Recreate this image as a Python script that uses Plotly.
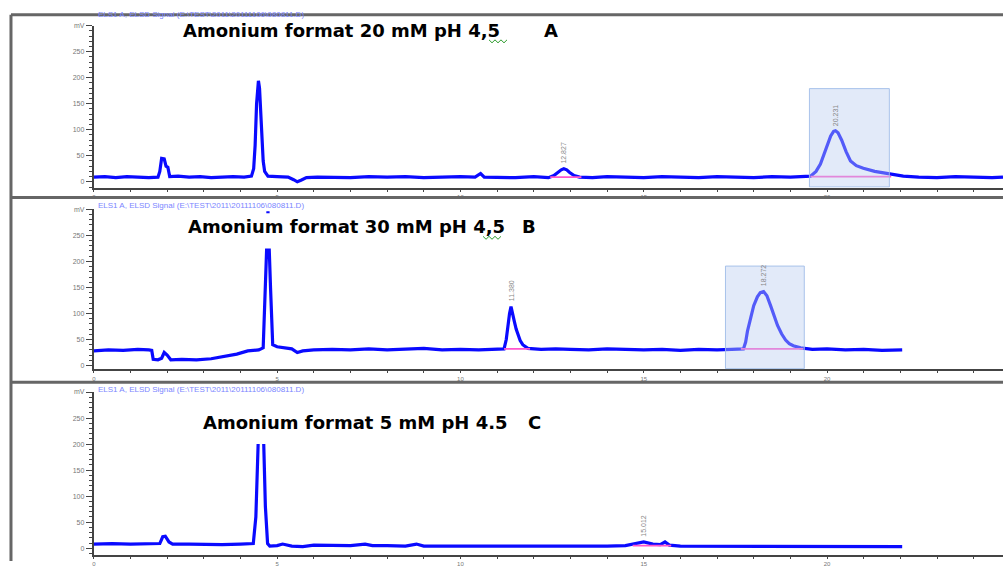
import plotly.graph_objects as go

W, H = 1003, 567

# ---------------- data ----------------
# Panel A : Amonium format 20 mM pH 4,5
tA = [0.00, 0.30, 0.60, 0.90, 1.20, 1.50, 1.75, 1.80, 1.85, 1.92, 1.97, 2.02, 2.07, 2.30, 2.60, 2.90,
      3.20, 3.50, 3.80, 4.10, 4.30, 4.36, 4.40, 4.44, 4.47, 4.49, 4.52, 4.55, 4.58, 4.62, 4.66, 4.75,
      5.00, 5.30, 5.45, 5.55, 5.65, 5.80, 6.10, 6.50, 7.00, 7.50, 8.00, 8.50, 9.00, 9.50, 10.00, 10.40,
      10.55, 10.65, 11.00, 11.50, 12.00, 12.40, 12.55, 12.65, 12.75, 12.82, 12.90, 12.98, 13.10, 13.25,
      13.60, 14.00, 14.50, 15.00, 15.50, 16.00, 16.50, 17.00, 17.50, 18.00, 18.50, 19.00, 19.55, 19.70,
      19.82, 19.92, 20.01, 20.10, 20.18, 20.23, 20.30, 20.40, 20.52, 20.64, 20.80, 20.99, 21.30, 21.54,
      21.73, 21.90, 22.08, 22.50, 23.00, 23.50, 24.00, 24.50, 24.80]
mvA = [9, 10, 8, 10, 9, 8, 9, 20, 45, 44, 30, 28, 10, 11, 9, 10,
       8, 9, 10, 9, 11, 25, 70, 150, 185, 194, 180, 130, 80, 40, 20, 11,
       10, 9, 4, 0, 3, 8, 9, 9, 8, 10, 9, 10, 8, 9, 10, 9,
       16, 9, 9, 8, 10, 8, 12, 18, 23, 25, 23, 18, 12, 9,
       8, 10, 9, 8, 10, 9, 8, 10, 9, 8, 10, 9, 11, 20,
       34, 52, 72, 88, 97, 98, 94, 80, 58, 40, 31, 26, 20, 17,
       15, 12, 11, 9, 8, 10, 9, 8, 9]

# Panel B : Amonium format 30 mM pH 4,5
tB = [0.00, 0.40, 0.80, 1.20, 1.50, 1.58, 1.62, 1.75, 1.85, 1.92, 2.00, 2.10, 2.40, 2.80, 3.20, 3.50,
      3.90, 4.20, 4.50, 4.62, 4.68, 4.75, 4.82, 4.88, 5.00, 5.40, 5.55, 5.70, 6.00, 6.50, 7.00, 7.50,
      8.00, 8.50, 9.00, 9.50, 10.00, 10.50, 11.00, 11.19, 11.25, 11.30, 11.34, 11.38, 11.43, 11.47,
      11.52, 11.57, 11.63, 11.70, 11.84, 12.20, 12.60, 13.00, 13.50, 14.00, 14.50, 15.00, 15.50, 16.00,
      16.50, 17.00, 17.40, 17.72, 17.78, 17.83, 17.92, 18.00, 18.10, 18.18, 18.27, 18.36, 18.46, 18.55,
      18.65, 18.76, 18.87, 18.97, 19.08, 19.28, 19.60, 20.00, 20.50, 21.00, 21.50, 22.05]
mvB = [28, 30, 29, 31, 30, 29, 12, 11, 14, 25, 20, 11, 12, 11, 13, 17,
       22, 28, 30, 34, 150, 296, 150, 40, 36, 32, 25, 28, 30, 31, 30, 32,
       30, 31, 33, 30, 31, 30, 32, 32, 50, 80, 100, 113, 100, 85,
       70, 58, 48, 40, 33, 31, 32, 31, 30, 32, 31, 30, 31, 29,
       31, 30, 31, 32, 45, 66, 92, 115, 132, 140, 142, 134, 115, 96,
       77, 61, 49, 42, 38, 34, 31, 32, 30, 31, 29, 30]

# Panel C : Amonium format 5 mM pH 4.5
tC = [0.00, 0.50, 1.00, 1.50, 1.80, 1.88, 1.95, 2.05, 2.15, 2.60, 3.00, 3.50, 4.00, 4.35, 4.42, 4.50,
      4.62, 4.68, 4.74, 4.80, 5.00, 5.15, 5.40, 5.70, 6.00, 6.50, 7.00, 7.40, 7.60, 8.00, 8.50, 8.80,
      9.00, 9.50, 10.00, 10.50, 11.00, 11.50, 12.00, 12.50, 13.00, 13.50, 14.00, 14.50, 14.75, 15.00,
      15.25, 15.45, 15.58, 15.70, 16.00, 16.50, 17.00, 17.50, 18.00, 18.50, 19.00, 19.50, 20.00, 20.50,
      21.00, 21.50, 22.05]
mvC = [8, 9, 8, 8, 9, 22, 23, 12, 8, 8, 7, 7, 8, 9, 60, 240,
       240, 80, 9, 4, 5, 8, 4, 3, 6, 5, 5, 8, 5, 5, 4, 8,
       4, 4, 4, 4, 4, 4, 4, 4, 3, 4, 4, 5, 8, 12,
       8, 7, 12, 6, 4, 4, 4, 4, 4, 4, 4, 4, 4, 4,
       4, 4, 3]

# integration baselines (panel, start, end, level)
baselines = [("A", 12.45, 13.30, 9), ("A", 19.55, 21.75, 10),
             ("B", 11.19, 11.90, 32), ("B", 17.65, 19.35, 32),
             ("C", 14.70, 15.75, 5)]
# peak labels (panel, retention time, apex mV, text)
peak_labels = [("A", 12.82, 25, "12.827"), ("A", 20.23, 98, "20.231"),
               ("B", 11.38, 113, "11.380"), ("B", 18.27, 142, "18.272"),
               ("C", 15.00, 12, "15.012")]
# highlighted regions (panel, t0, t1, top mV)
boxes = [("A", 19.52, 21.70, 179), ("B", 17.23, 19.38, 191)]

titles = [("A", "Amonium format 20 mM pH 4,5", "A"),
          ("B", "Amonium format 30 mM pH 4,5", "B"),
          ("C", "Amonium format 5 mM pH 4.5", "C")]

y_tickvals = [0, 50, 100, 150, 200, 250, 300]
y_ticktext = ["0", "50", "100", "150", "200", "250", "mV"]

# ---------------- layout helpers ----------------
def px(x):
    return x / W

def py(y):
    return 1 - y / H

axis_id = {"A": ("x", "y", ""), "B": ("x2", "y2", "2"), "C": ("x3", "y3", "3")}
# panel geometry in pixels: (y of axis bottom, y of axis top, ymin, ymax)
geom = {"A": (187, 22, -11.3, 300), "B": (372, 209, -7.5, 300), "C": (561, 395, -13.2, 300)}
XR = [0, 24.80]

fig = go.Figure()
blue = "#0a0aff"
for key, t, v in (("A", tA, mvA), ("B", tB, mvB), ("C", tC, mvC)):
    xa, ya, _ = axis_id[key]
    fig.add_trace(go.Scatter(x=t, y=v, mode="lines", xaxis=xa, yaxis=ya,
                             line=dict(color=blue, width=3.2), hoverinfo="skip", showlegend=False))

for key, t0, t1, lvl in baselines:
    xa, ya, _ = axis_id[key]
    fig.add_trace(go.Scatter(x=[t0, t1], y=[lvl, lvl], mode="lines", xaxis=xa, yaxis=ya,
                             line=dict(color="#ff55cc", width=1.6), hoverinfo="skip", showlegend=False))

layout = dict(width=W, height=H, margin=dict(l=0, r=0, t=0, b=0),
              paper_bgcolor="white", plot_bgcolor="white", showlegend=False,
              font=dict(family="Liberation Sans, Arial", color="#555"))

for key in ("A", "B", "C"):
    xa, ya, suf = axis_id[key]
    yb, yt, ymin, ymax = geom[key]
    layout["xaxis" + suf] = dict(domain=[px(92), 1], range=XR, anchor=ya,
                                 showline=True, linecolor="#444", linewidth=2,
                                 ticks="outside", ticklen=2, tickcolor="#444", tickwidth=1,
                                 tick0=0, dtick=5, tickfont=dict(size=6, color="#777"),
                                 minor=dict(tick0=0, dtick=1, ticks="outside", ticklen=2, tickcolor="#444"),
                                 showgrid=False, zeroline=False, fixedrange=True)
    layout["yaxis" + suf] = dict(domain=[py(yb), py(yt)], range=[ymin, ymax], anchor=xa,
                                 showline=True, linecolor="#444", linewidth=2,
                                 ticks="outside", ticklen=6, tickcolor="#444", tickwidth=1,
                                 tickmode="array", tickvals=y_tickvals, ticktext=y_ticktext,
                                 tickfont=dict(size=7, color="#777"),
                                 minor=dict(tickmode="linear", tick0=0, dtick=10, ticks="outside",
                                            ticklen=3, tickcolor="#444"),
                                 showgrid=False, zeroline=False, fixedrange=True)

shapes = []
# highlighted peak boxes
for key, t0, t1, top in boxes:
    xa, ya, _ = axis_id[key]
    shapes.append(dict(type="rect", xref=xa, yref=ya, x0=t0, x1=t1, y0=geom[key][2] + 1.5, y1=top,
                       fillcolor="rgba(185,205,240,0.42)", line=dict(color="rgba(160,188,232,0.9)", width=1),
                       layer="above"))
# white boxes behind titles (they hide the top of the big peaks)
shapes.append(dict(type="rect", xref="paper", yref="paper", x0=px(178), x1=px(565), y0=py(249), y1=py(213),
                   fillcolor="white", line=dict(width=0), layer="above"))
shapes.append(dict(type="rect", xref="paper", yref="paper", x0=px(195), x1=px(560), y0=py(448), y1=py(406),
                   fillcolor="white", line=dict(width=0), layer="above"))
# panel frames
frame = dict(color="#666", width=3)
shapes.append(dict(type="line", xref="paper", yref="paper", x0=px(9), x1=1, y0=py(11), y1=py(11), line=frame))
shapes.append(dict(type="line", xref="paper", yref="paper", x0=px(9), x1=1, y0=py(197), y1=py(197), line=frame))
shapes.append(dict(type="line", xref="paper", yref="paper", x0=px(9), x1=1, y0=py(385), y1=py(385), line=frame))
shapes.append(dict(type="line", xref="paper", yref="paper", x0=px(9), x1=px(9), y0=py(11), y1=0, line=frame))
# green spell-check squiggles under "4,5"
for (sx, sy) in ((488, 38), (482, 238)):
    pts = []
    for i in range(7):
        pts.append((px(sx + i * 3), py(sy + (1.5 if i % 2 else -1.5))))
    path = "M " + " L ".join(f"{a:.5f},{b:.5f}" for a, b in pts)
    shapes.append(dict(type="path", xref="paper", yref="paper", path=path,
                       line=dict(color="#2a9a2a", width=1)))
layout["shapes"] = shapes

ann = []
title_pos = {"A": (180, 27, 550), "B": (185, 227, 528), "C": (200, 426, 534)}
for key, txt, letter in titles:
    x0, yc, lx = title_pos[key]
    ann.append(dict(xref="paper", yref="paper", x=px(x0), y=py(yc), xanchor="left", yanchor="middle",
                    text=txt, showarrow=False, borderpad=0,
                    font=dict(family="DejaVu Sans", size=18, color="black", weight="bold")))
    ann.append(dict(xref="paper", yref="paper", x=px(lx), y=py(yc), xanchor="center", yanchor="middle",
                    text=letter, showarrow=False, borderpad=0,
                    font=dict(family="DejaVu Sans", size=18, color="black", weight="bold")))
# instrument header lines
for yh in (11, 205, 392):
    ann.append(dict(xref="paper", yref="paper", x=px(95), y=py(yh), xanchor="left", yanchor="middle",
                    text="ELS1 A, ELSD Signal (E:\\TEST\\2011\\20111106\\080811.D)", showarrow=False,
                    borderpad=0, font=dict(family="Liberation Sans", size=8, color="#7b86ff")))
# rotated retention time labels
for key, rt, apex, lab in peak_labels:
    xa, ya, _ = axis_id[key]
    ann.append(dict(xref=xa, yref=ya, x=rt, y=apex, yshift=4, xanchor="center", yanchor="bottom",
                    text=lab, textangle=-90, showarrow=False, borderpad=0,
                    font=dict(family="Liberation Sans", size=7, color="#888")))
layout["annotations"] = ann

fig.update_layout(**layout)
fig.write_html("out.html")
